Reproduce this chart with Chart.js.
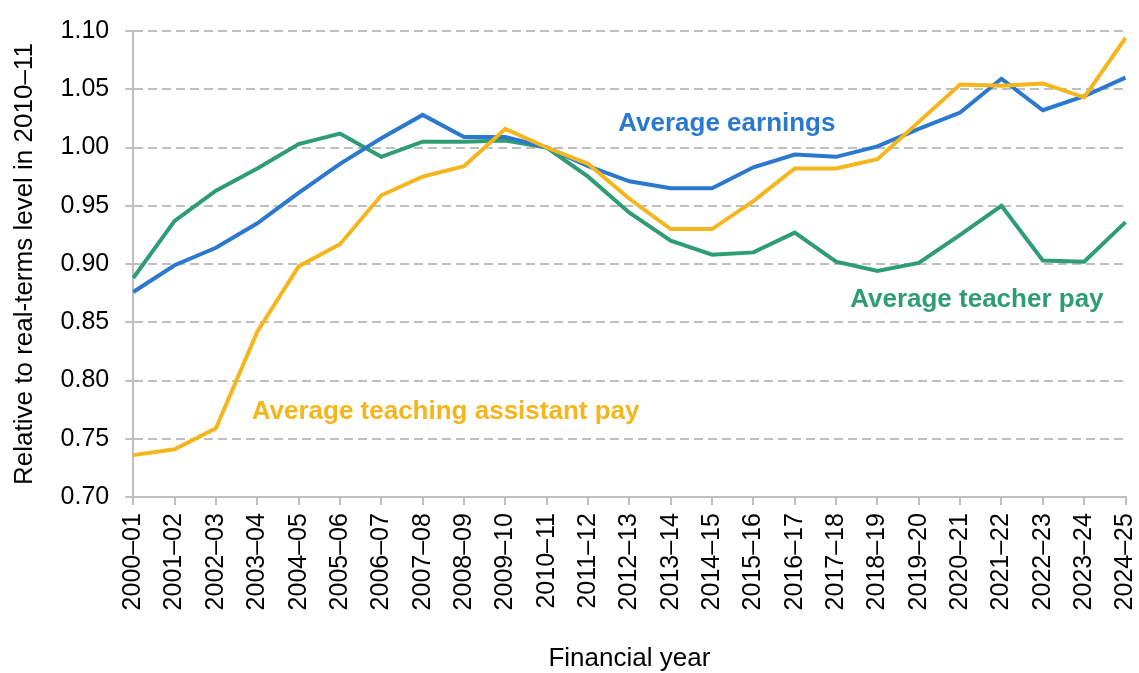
<!DOCTYPE html>
<html>
<head>
<meta charset="utf-8">
<script src="https://cdn.jsdelivr.net/npm/chart.js@4"></script>
<style>
  html, body { margin: 0; padding: 0; background: #fff; }
  #wrap { width: 1139px; height: 673px; position: relative; }
</style>
</head>
<body>
<div id="wrap"><canvas id="c" width="1139" height="673"></canvas></div>
<script>
const years = ['2000–01','2001–02','2002–03','2003–04','2004–05','2005–06','2006–07','2007–08','2008–09','2009–10','2010–11','2011–12','2012–13','2013–14','2014–15','2015–16','2016–17','2017–18','2018–19','2019–20','2020–21','2021–22','2022–23','2023–24','2024–25'];

const earnings = [0.876, 0.899, 0.914, 0.935, 0.961, 0.986, 1.008, 1.028, 1.009, 1.009, 1.000, 0.984, 0.971, 0.965, 0.965, 0.983, 0.994, 0.992, 1.001, 1.016, 1.030, 1.059, 1.032, 1.044, 1.060];

const teacherPay = [0.888, 0.937, 0.963, 0.982, 1.003, 1.012, 0.992, 1.005, 1.005, 1.006, 1.000, 0.975, 0.944, 0.920, 0.908, 0.910, 0.927, 0.902, 0.894, 0.901, 0.925, 0.950, 0.903, 0.902, 0.936];

const taPay = [0.736, 0.741, 0.759, 0.842, 0.898, 0.917, 0.959, 0.975, 0.984, 1.016, 1.000, 0.986, 0.956, 0.930, 0.930, 0.954, 0.982, 0.982, 0.990, 1.022, 1.054, 1.053, 1.055, 1.043, 1.094];

const seriesNames = ['Average teaching assistant pay', 'Average earnings', 'Average teacher pay'];
const yTicks = [0.70, 0.75, 0.80, 0.85, 0.90, 0.95, 1.00, 1.05, 1.10];

const BLUE = '#2A79CF';
const GREEN = '#2F9D73';
const YELLOW = '#F4B51D';
const GRID = '#BFBFBF';
const FONT = "'Liberation Sans', Arial, sans-serif";

const labelPlugin = {
  id: 'seriesLabels',
  afterDatasetsDraw(chart) {
    const {ctx, scales: {x, y}} = chart;
    const items = [
      {text: seriesNames[1], color: BLUE, xi: 11.73, yv: 1.0142},
      {text: seriesNames[2], color: GREEN, xi: 17.34, yv: 0.8635},
      {text: seriesNames[0], color: YELLOW, xi: 2.865, yv: 0.7669}
    ];
    ctx.save();
    ctx.font = "bold 26px " + FONT;
    ctx.textAlign = 'left';
    ctx.textBaseline = 'alphabetic';
    items.forEach(it => {
      ctx.fillStyle = it.color;
      ctx.fillText(it.text, x.getPixelForValue(it.xi), y.getPixelForValue(it.yv));
    });
    ctx.restore();
  }
};

new Chart(document.getElementById('c'), {
  type: 'line',
  data: {
    labels: years,
    datasets: [
      {label: seriesNames[0], data: taPay, borderColor: YELLOW, backgroundColor: YELLOW, borderWidth: 4, pointRadius: 0, tension: 0, fill: false},
      {label: seriesNames[1], data: earnings, borderColor: BLUE, backgroundColor: BLUE, borderWidth: 4, pointRadius: 0, tension: 0, fill: false},
      {label: seriesNames[2], data: teacherPay, borderColor: GREEN, backgroundColor: GREEN, borderWidth: 4, pointRadius: 0, tension: 0, fill: false}
    ]
  },
  options: {
    responsive: false,
    animation: false,
    devicePixelRatio: 1,
    layout: {padding: {left: 0, right: 13.5, top: 27, bottom: 0}},
    plugins: {legend: {display: false}, tooltip: {enabled: false}},
    scales: {
      x: {
        type: 'category',
        offset: false,
        grid: {display: true, drawOnChartArea: false, drawTicks: true, tickLength: 8, color: GRID, lineWidth: 2},
        border: {display: true, color: GRID, width: 2},
        ticks: {autoSkip: false, minRotation: 90, maxRotation: 90, padding: 8, color: '#000', font: {family: FONT, size: 25}},
        title: {display: true, text: 'Financial year', color: '#000', font: {family: FONT, size: 26, lineHeight: 1.1}, padding: {top: 26, bottom: 0}},
        afterFit(scale) { scale.paddingRight = 0; scale.paddingLeft = 0; }
      },
      y: {
        min: 0.70,
        max: 1.10,
        afterBuildTicks(scale) { scale.ticks = yTicks.map(v => ({value: v})); },
        grid: {display: true, drawOnChartArea: true, drawTicks: true, tickLength: 8, color: GRID, lineWidth: 2},
        border: {display: true, color: GRID, width: 2, dash: [9, 5]},
        ticks: {padding: 16, color: '#000', font: {family: FONT, size: 25}, callback: v => Number(v).toFixed(2)},
        title: {display: true, text: 'Relative to real-terms level in 2010–11', color: '#000', font: {family: FONT, size: 26, lineHeight: 1.2}, padding: {top: 9.4, bottom: 4}}
      }
    }
  },
  plugins: [labelPlugin]
});
</script>
</body>
</html>
